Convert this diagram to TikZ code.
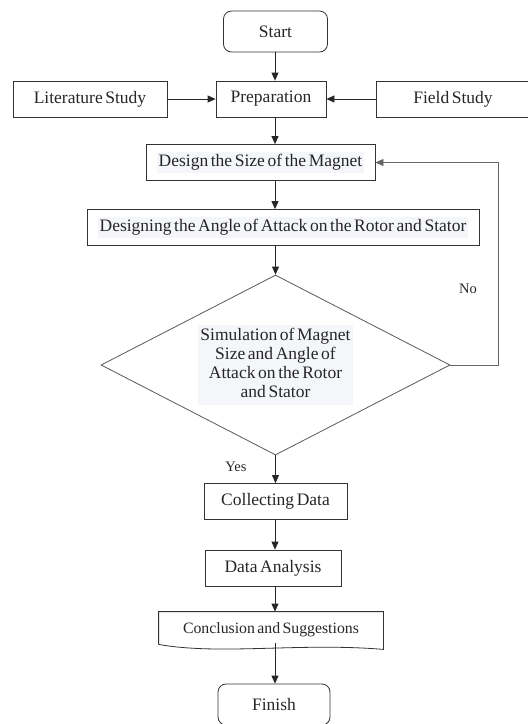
\documentclass[tikz,border=0pt]{standalone}
\usepackage{fontspec}
\setmainfont{Liberation Serif}[WordSpace=0.6]
\usetikzlibrary{shapes.geometric,arrows.meta,positioning,calc}
\definecolor{textbg}{HTML}{F4F6F9}
\newcommand\hlbox[1]{{\setlength\fboxsep{2pt}\colorbox{textbg}{#1}}}

\begin{document}
\begin{tikzpicture}[
  x=1pt, y=-1pt,
  box/.style={
    draw=black!80, line width=0.8pt, inner sep=0pt,
    minimum width=#1, minimum height=36pt, text=black!85,
    font=\fontsize{17.5}{19}\selectfont, align=center
  },
  box/.default=110pt,
  term/.style={box=#1, rounded corners=8pt, minimum height=41pt},
  term/.default=104pt,
  dec/.style={
    draw=black!65, line width=0.8pt, shape=diamond, aspect=1.9,
    inner sep=0pt, minimum width=349pt, minimum height=180pt, text=black!85,
    font=\fontsize{17.5}{19}\selectfont, align=center
  },
  lbl/.style={font=\fontsize{14.5}{17}\selectfont, text=black!85},
  arr/.style={-{Triangle[width=7pt,length=8pt]}, line width=0.8pt, black!85},
  back/.style={arr, black!60},
]
\useasboundingbox (0,0) rectangle (528,724);

\node[term]           (start)  at (275.5,31.5) {Start};
\node[box]            (prep)   at (271,99)     {Preparation};
\node[box=154pt]      (lit)    at (90,99)      {Literature Study};
\node[box=154pt]      (field)  at (453,99)     {Field Study};
\node[box=229pt]      (size)   at (260.5,162.5) {\hlbox{Design the Size of the Magnet}};
\node[box=392pt]      (angle)  at (283,227.5)  {\hlbox{Designing the Angle of Attack on the Rotor and Stator}};
\node[dec]            (sim)    at (275.5,365)
  {\hlbox{\begin{tabular}{@{}c@{}}Simulation of Magnet\\Size and Angle of\\Attack on the Rotor\\and Stator\end{tabular}}};
\node[box=143pt]      (collect) at (275.5,501.5) {Collecting Data};
\node[box=136pt]      (analysis) at (273,568)  {Data Analysis};
\node[box=224pt, draw=none, font=\fontsize{15.8}{18}\selectfont] (concl) at (271,630) {Conclusion and Suggestions};
\node[term=112pt]     (finish) at (274,704.5)  {Finish};

% document shape under the conclusion text
\draw[black!80, line width=0.8pt]
  ([yshift=4pt]concl.south west) -- (concl.north west) -- (concl.north east)
  -- ([yshift=-1pt]concl.south east)
  .. controls +(-83,-7) and +(61,11) .. ([yshift=4pt]concl.south west);

\node[lbl] (no)  at (468,289) {No};
\node[lbl] (yes) at (236,467) {Yes};

\coordinate (axis) at (275,0);
\coordinate (loop) at (498,0);

\draw[arr] (start.south -| axis)    -- (prep.north -| axis);
\draw[arr] (lit)                    -- (prep);
\draw[arr] (field)                  -- (prep);
\draw[arr] (prep.south -| axis)     -- (size.north -| axis);
\draw[arr] (size.south -| axis)     -- (angle.north -| axis);
\draw[arr] (angle.south -| sim)     -- (sim.north);
\draw[arr] (sim.south)              -- (collect.north -| sim);
\draw[arr] (collect.south -| axis)  -- (analysis.north -| axis);
\draw[arr] (analysis.south -| axis) -- (concl.north -| axis);
\draw[arr] ([yshift=5pt]concl.south -| axis) -- (finish.north -| axis);
\draw[back] (sim.east) -- (sim.east -| loop) |- (size.east);
\end{tikzpicture}
\end{document}
